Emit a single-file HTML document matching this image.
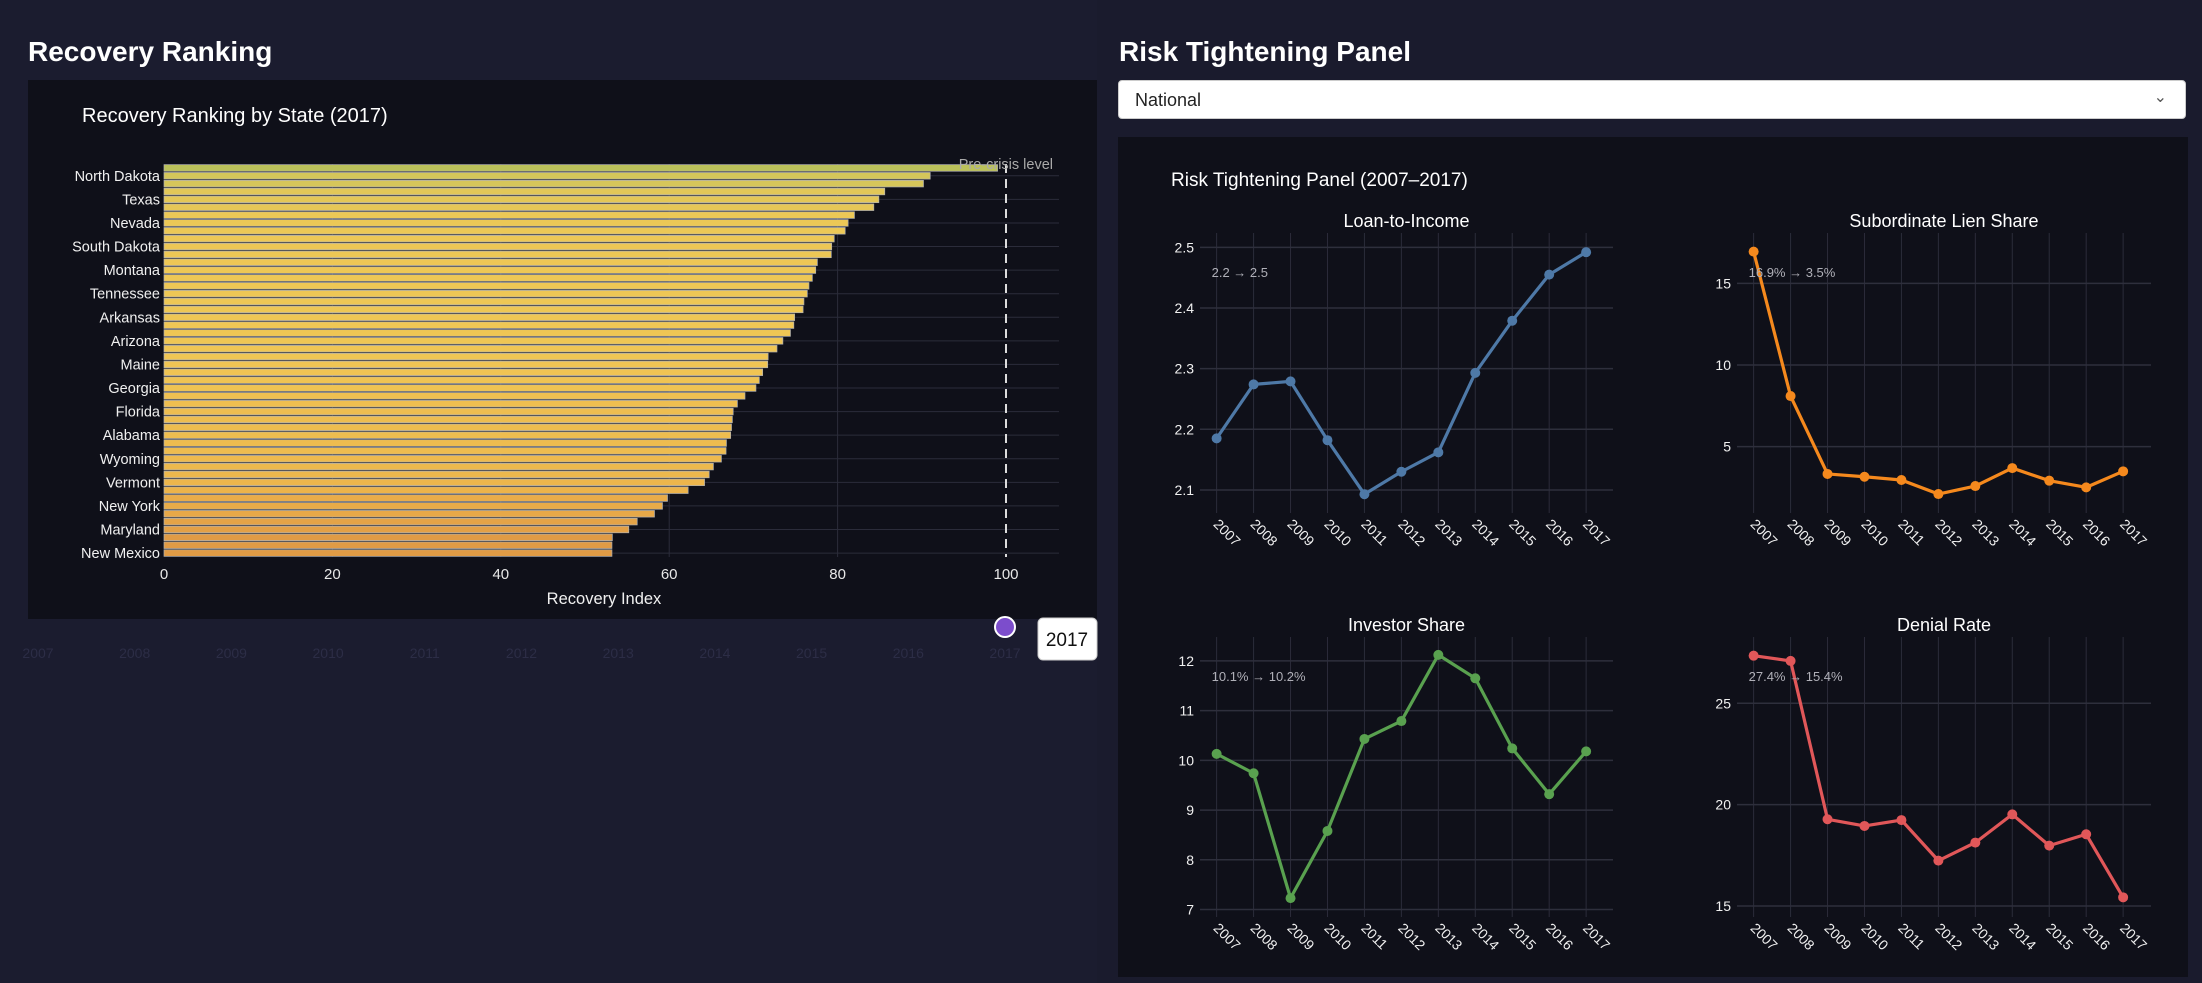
<!DOCTYPE html>
<html><head><meta charset="utf-8">
<style>
html,body{margin:0;padding:0;width:2202px;height:983px;overflow:hidden;background:#1b1c2f;font-family:"Liberation Sans",sans-serif;}
#root{position:relative;width:2202px;height:983px;}
.h{position:absolute;color:#fff;font-weight:bold;font-size:28px;margin:0;}
svg text{font-family:"Liberation Sans",sans-serif;}
</style></head>
<body><div id="root">
<div style="position:absolute;left:1097px;top:0;width:1105px;height:983px;background:#1a1b2d"></div>
<h1 class="h" style="left:28px;top:36px">Recovery Ranking</h1>
<h1 class="h" style="left:1119px;top:36px">Risk Tightening Panel</h1>
<div style="position:absolute;left:1118px;top:80px;width:1068px;height:39px;background:#fff;border-radius:4px;box-sizing:border-box;border:1px solid #ccc">
<span style="position:absolute;left:16px;top:9px;font-size:18px;color:#222">National</span>
<span style="position:absolute;right:18px;top:6px;font-size:16px;color:#555">&#8964;</span>
</div>
<svg id="left" style="position:absolute;left:0;top:0" width="1100" height="680"></svg>
<svg id="right" style="position:absolute;left:0;top:0" width="2202" height="983"></svg>
</div>
<script>
const states=["Utah","North Dakota","Idaho","Colorado","Texas","Washington","Oregon","Nevada","California","Minnesota","South Dakota","Nebraska","Iowa","Montana","Massachusetts","Hawaii","Tennessee","North Carolina","South Carolina","Arkansas","Kansas","Oklahoma","Arizona","Wisconsin","Indiana","Maine","Michigan","Missouri","Georgia","New Hampshire","Virginia","Florida","Kentucky","Ohio","Alabama","Delaware","Pennsylvania","Wyoming","Louisiana","Illinois","Vermont","Rhode Island","Alaska","New York","Mississippi","New Jersey","Maryland","West Virginia","Connecticut","New Mexico"];
const recovery=[99.0,91.0,90.2,85.6,84.9,84.3,82.0,81.25,80.9,79.6,79.3,79.25,77.6,77.4,77.0,76.6,76.4,76.0,75.9,74.9,74.8,74.4,73.5,72.8,71.75,71.7,71.1,70.7,70.3,69.0,68.1,67.6,67.5,67.4,67.3,66.8,66.75,66.2,65.25,64.75,64.2,62.25,59.8,59.2,58.25,56.2,55.2,53.25,53.2,53.2];
const xTicks=[0,20,40,60,80,100];
const sliderYears=[2007,2008,2009,2010,2011,2012,2013,2014,2015,2016,2017];
const years=["2007","2008","2009","2010","2011","2012","2013","2014","2015","2016","2017"];
const lti=[2.185,2.274,2.279,2.182,2.093,2.130,2.162,2.293,2.379,2.455,2.492];
const subLien=[16.94,8.10,3.33,3.16,2.96,2.10,2.59,3.69,2.92,2.51,3.49];
const investor=[10.13,9.74,7.23,8.58,10.43,10.79,12.12,11.65,10.24,9.32,10.18];
const denial=[27.35,27.09,19.28,18.95,19.24,17.24,18.13,19.52,17.98,18.54,15.43];
const ltiTicks=[2.1,2.2,2.3,2.4,2.5];
const subTicks=[5,10,15];
const invTicks=[7,8,9,10,11,12];
const denTicks=[15,20,25];

const NS="http://www.w3.org/2000/svg";
function mk(p,tag,attrs,txt){const e=document.createElementNS(NS,tag);for(const k in attrs)e.setAttribute(k,attrs[k]);if(txt!==undefined)e.textContent=txt;p.appendChild(e);return e;}

const L=document.getElementById('left');
const bg=mk(L,'rect',{x:28,y:80,width:1069,height:539,fill:'#0f1019'});


const t1=mk(L,'text',{x:82,y:122,fill:'#fff','font-size':20},'Recovery Ranking by State (2017)');


const px0=164,pxR=1059,unit=8.42,py0=164,py1=557;
const xs=v=>px0+v*unit;
const cat=(py1-py0)/states.length;
const ys=i=>py0+cat*(i+0.5);
xTicks.forEach(v=>{
 if(v>0&&v<100){const g=mk(L,'line',{x1:xs(v),x2:xs(v),y1:py0,y2:py1,stroke:'#2b2c3a','stroke-width':1});
 
 }
 const t=mk(L,'text',{x:xs(v),y:579,fill:'#e8e8e8','font-size':15,'text-anchor':'middle'},String(v));
 
 
});
states.forEach((s,i)=>{
 if((states.length-1-i)%3===0){
  const g=mk(L,'line',{x1:px0,x2:pxR,y1:ys(i),y2:ys(i),stroke:'#2b2c3a','stroke-width':1});
  
  
  const t=mk(L,'text',{x:px0-4,y:ys(i)+5,fill:'#f0f0f0','font-size':14.5,'text-anchor':'end'},s);
  
  
 }
});
function col(v){
 const stops=[[53,[224,154,69]],[62,[236,178,74]],[72,[240,198,84]],[82,[236,200,86]],[91,[212,198,90]],[100,[184,192,90]]];
 for(let k=0;k<stops.length-1;k++){const a=stops[k],b=stops[k+1];if(v<=b[0]){const t=Math.max(0,(v-a[0])/(b[0]-a[0]));return 'rgb('+a[1].map((c,j)=>Math.round(c+(b[1][j]-c)*t)).join(',')+')';}}
 return 'rgb(184,192,90)';
}
recovery.forEach((v,i)=>{
 const b=mk(L,'rect',{x:px0,y:ys(i)-cat*0.42,width:xs(v)-px0,height:cat*0.84,fill:col(v),stroke:'#b0b0b0','stroke-width':0.7});
 
 
});
const dl=mk(L,'line',{x1:xs(100),x2:xs(100),y1:py0,y2:py1,stroke:'#dcdcdc','stroke-width':2,'stroke-dasharray':'9,6'});


const pc=mk(L,'text',{x:1053,y:169,fill:'#aaaaaa','font-size':14.5,'text-anchor':'end'},'Pre-crisis level');


const xt=mk(L,'text',{x:604,y:604,fill:'#f0f0f0','font-size':16.5,'text-anchor':'middle'},'Recovery Index');


sliderYears.forEach((y,i)=>{
 const t=mk(L,'text',{x:38+i*96.7,y:658,fill:'#2c2d46','font-size':14,'text-anchor':'middle'},String(y));
 
 
});
const h=mk(L,'circle',{cx:1005,cy:627,r:10,fill:'#7c4dcc',stroke:'#fff','stroke-width':2});


const bx=mk(L,'rect',{x:1038,y:618,width:59,height:42,rx:5,fill:'#fff',stroke:'#ccc'});


const bt=mk(L,'text',{x:1067,y:646,fill:'#111','font-size':19,'text-anchor':'middle'},'2017');



const R=document.getElementById('right');
const rb=mk(R,'rect',{x:1118,y:137,width:1070,height:840,fill:'#0f1019'});


const rt=mk(R,'text',{x:1171,y:186,fill:'#fff','font-size':19},'Risk Tightening Panel (2007–2017)');


function panel(name,title,vals,ticks,ymin,ymax,x0,x1,top,bot,color,note){
 const xsc=i=>x0+(i+0.45)*36.95;
 const ysc=v=>bot-(v-ymin)/(ymax-ymin)*(bot-top);
 const tt=mk(R,'text',{x:(x0+x1)/2,y:top-6,fill:'#fff','font-size':18,'text-anchor':'middle'},title);
 
 
 years.forEach((y,i)=>{
  const g=mk(R,'line',{x1:xsc(i),x2:xsc(i),y1:top,y2:bot,stroke:'#2b2c3a','stroke-width':1});
  
  
  const t=mk(R,'text',{x:0,y:0,fill:'#f0f0f0','font-size':14,transform:'translate('+(xsc(i)-4)+','+(bot+12)+') rotate(45)'},y);
  
  
 });
 ticks.forEach(v=>{
  const g=mk(R,'line',{x1:x0,x2:x1,y1:ysc(v),y2:ysc(v),stroke:'#2e2f3c','stroke-width':1.5});
  
  
  const t=mk(R,'text',{x:x0-6,y:ysc(v)+5,fill:'#f0f0f0','font-size':14,'text-anchor':'end'},String(v));
  
  
 });
 const pts=vals.map((v,i)=>xsc(i)+','+ysc(v)).join(' ');
 const pl=mk(R,'polyline',{points:pts,fill:'none',stroke:color,'stroke-width':3.2,'stroke-linejoin':'round'});
 
 
 vals.forEach((v,i)=>{
  const c=mk(R,'circle',{cx:xsc(i),cy:ysc(v),r:5,fill:color});
  
  
 });
 const an=mk(R,'text',{x:xsc(0)-5,y:top+44,fill:'#b0b0b8','font-size':13},note);
 
 
}
panel('loan-to-income','Loan-to-Income',lti,ltiTicks,2.062,2.5236,1200,1613,233,513,'#4e79a7','2.2 → 2.5');
panel('subordinate-lien','Subordinate Lien Share',subLien,subTicks,0.94,18.08,1737,2151,233,513,'#f5891d','16.9% → 3.5%');
panel('investor-share','Investor Share',investor,invTicks,6.85,12.48,1200,1613,637,917,'#59a14f','10.1% → 10.2%');
panel('denial-rate','Denial Rate',denial,denTicks,14.46,28.27,1737,2151,637,917,'#e15759','27.4% → 15.4%');
</script>
</body></html>
